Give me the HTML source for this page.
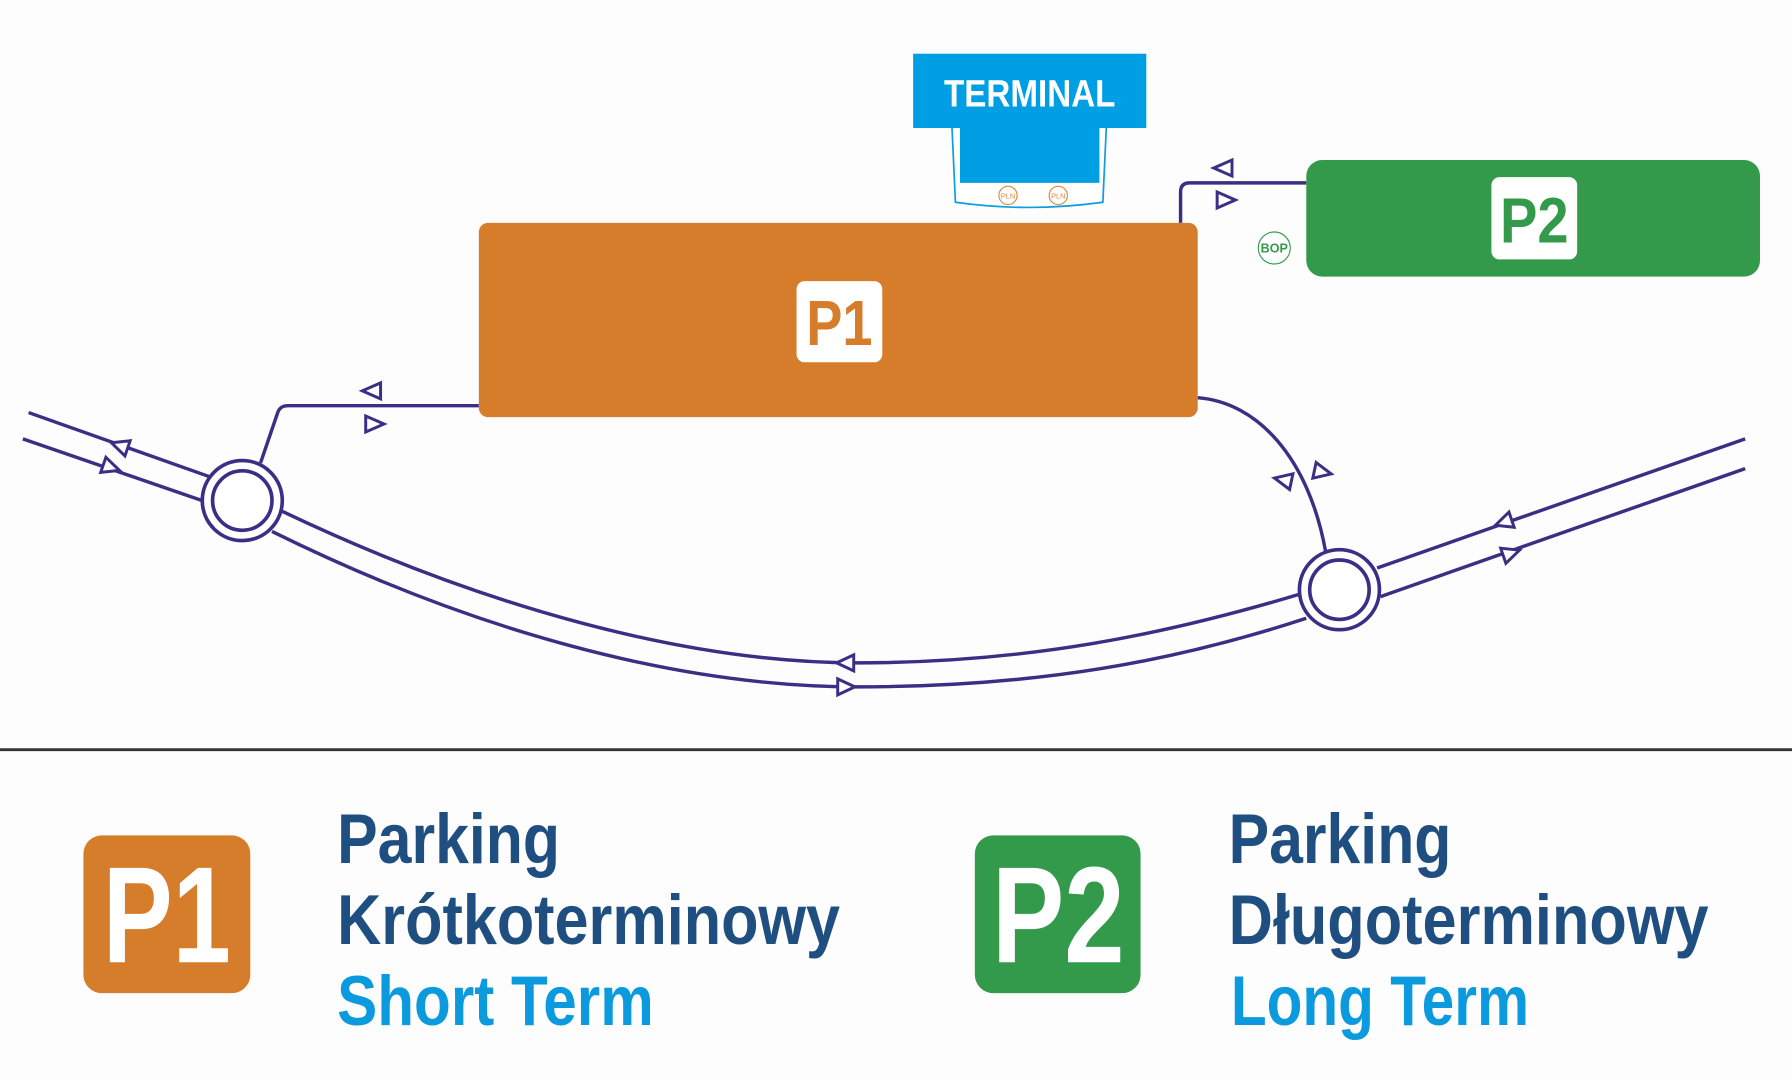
<!DOCTYPE html>
<html><head><meta charset="utf-8"><style>html,body{margin:0;padding:0;background:#fdfdfd}svg{display:block}</style></head>
<body>
<svg width="1792" height="1080" viewBox="0 0 1568 945" preserveAspectRatio="none" xmlns="http://www.w3.org/2000/svg">
<rect width="1568" height="945" fill="#fdfdfd"/>
<g fill="none" stroke="#3b2f85" stroke-width="3">
<line x1="25" y1="361" x2="183" y2="417"/>
<line x1="20" y1="384" x2="177" y2="438"/>
<line x1="1205" y1="497" x2="1527" y2="384"/>
<line x1="1208" y1="522" x2="1527" y2="410"/>
<path d="M246,447 C420,530 600,580 750,580 C900,580 1020,555 1137,520"/>
<path d="M238,465 C410,550 590,601 750,601 C910,601 1030,578 1143,541"/>
<path d="M419,355 L252,355 Q245,355 243,361 L228,405"/>
<path d="M1143,160 L1041,160 Q1033,160 1033,168 L1033,195"/>
<path d="M1048,348 C1100,352 1145,400 1160,483"/>
</g>
<g fill="#fff" stroke="#3b2f85" stroke-width="3.2">
<circle cx="212" cy="438" r="35"/><circle cx="212" cy="438" r="26"/>
<circle cx="1172" cy="516" r="35"/><circle cx="1172" cy="516" r="26"/>
</g>
<g fill="#fff" stroke="#3b2f85" stroke-width="2.6" stroke-linejoin="miter">
<polygon points="1062,147 1078,140 1078,154"/>
<polygon points="1081,175 1065,168 1065,182"/>
<polygon points="317,342 333,335 333,349"/>
<polygon points="336,371 320,364 320,378"/>
<polygon points="732,580 747,573 747,587"/>
<polygon points="748,601 733,594 733,608"/>
<g transform="translate(105,390) rotate(19)"><polygon points="-8,0 7,-7 7,7"/></g>
<g transform="translate(97,409) rotate(19)"><polygon points="8,0 -7,-7 -7,7"/></g>
<g transform="translate(1316,457) rotate(-19)"><polygon points="-8,0 7,-7 7,7"/></g>
<g transform="translate(1322,484) rotate(-19)"><polygon points="8,0 -7,-7 -7,7"/></g>
<g transform="translate(1123,420) rotate(12)"><polygon points="-8,0 7,-7 7,7"/></g>
<g transform="translate(1157,413) rotate(12)"><polygon points="8,0 -7,-7 -7,7"/></g>
</g>
<path d="M833,112 L836,177 Q900,186 965,177 L968,112" fill="#fff" stroke="#0e9de0" stroke-width="1.5"/>
<rect x="840" y="110" width="122" height="50" fill="#009fe3"/>
<rect x="799" y="47" width="204" height="65" fill="#009fe3"/>
<text x="901" y="93" text-anchor="middle" font-family="Liberation Sans, sans-serif" font-weight="bold" font-size="33" fill="#fff" textLength="150" lengthAdjust="spacingAndGlyphs">TERMINAL</text>
<g fill="#fff" stroke="#e08a3c" stroke-width="1"><circle cx="882" cy="171" r="8"/><circle cx="926" cy="171" r="8"/></g>
<g font-family="Liberation Sans, sans-serif" font-size="6.5" fill="#e08a3c" text-anchor="middle"><text x="882" y="173.5">PLN</text><text x="926" y="173.5">PLN</text></g>
<rect x="419" y="195" width="629" height="170" rx="8" fill="#d67d2b"/>
<rect x="697" y="246" width="75" height="71" rx="7" fill="#fff"/>
<text x="734.5" y="302" text-anchor="middle" font-family="Liberation Sans, sans-serif" font-weight="bold" font-size="56" fill="#d67d2b" textLength="58" lengthAdjust="spacingAndGlyphs">P1</text>
<rect x="1143" y="140" width="397" height="102" rx="14" fill="#339a4b"/>
<rect x="1305" y="155" width="75" height="72" rx="7" fill="#fff"/>
<text x="1342.5" y="212" text-anchor="middle" font-family="Liberation Sans, sans-serif" font-weight="bold" font-size="56" fill="#339a4b" textLength="60" lengthAdjust="spacingAndGlyphs">P2</text>
<circle cx="1115" cy="217" r="14" fill="#fff" stroke="#339a4b" stroke-width="1"/>
<text x="1115" y="221" text-anchor="middle" font-family="Liberation Sans, sans-serif" font-weight="bold" font-size="11" fill="#339a4b">BOP</text>
<line x1="0" y1="656" x2="1568" y2="656" stroke="#333" stroke-width="2.5"/>
<rect x="73" y="731" width="146" height="138" rx="16" fill="#d67d2b"/>
<text x="146" y="842" text-anchor="middle" font-family="Liberation Sans, sans-serif" font-weight="bold" font-size="120" fill="#fff" textLength="112" lengthAdjust="spacingAndGlyphs">P1</text>
<rect x="853" y="731" width="145" height="138" rx="16" fill="#339a4b"/>
<text x="926" y="842" text-anchor="middle" font-family="Liberation Sans, sans-serif" font-weight="bold" font-size="120" fill="#fff" textLength="116" lengthAdjust="spacingAndGlyphs">P2</text>
<g font-family="Liberation Sans, sans-serif" font-weight="bold" font-size="62">
<text x="295" y="755" fill="#1f4e80" textLength="195" lengthAdjust="spacingAndGlyphs">Parking</text>
<text x="295" y="826" fill="#1f4e80" textLength="440" lengthAdjust="spacingAndGlyphs">Krótkoterminowy</text>
<text x="295" y="897" fill="#0b9ade" textLength="277" lengthAdjust="spacingAndGlyphs">Short Term</text>
<text x="1075" y="755" fill="#1f4e80" textLength="195" lengthAdjust="spacingAndGlyphs">Parking</text>
<text x="1075" y="826" fill="#1f4e80" textLength="420" lengthAdjust="spacingAndGlyphs">Długoterminowy</text>
<text x="1077" y="897" fill="#0b9ade" textLength="261" lengthAdjust="spacingAndGlyphs">Long Term</text>
</g>
</svg>
</body></html>
